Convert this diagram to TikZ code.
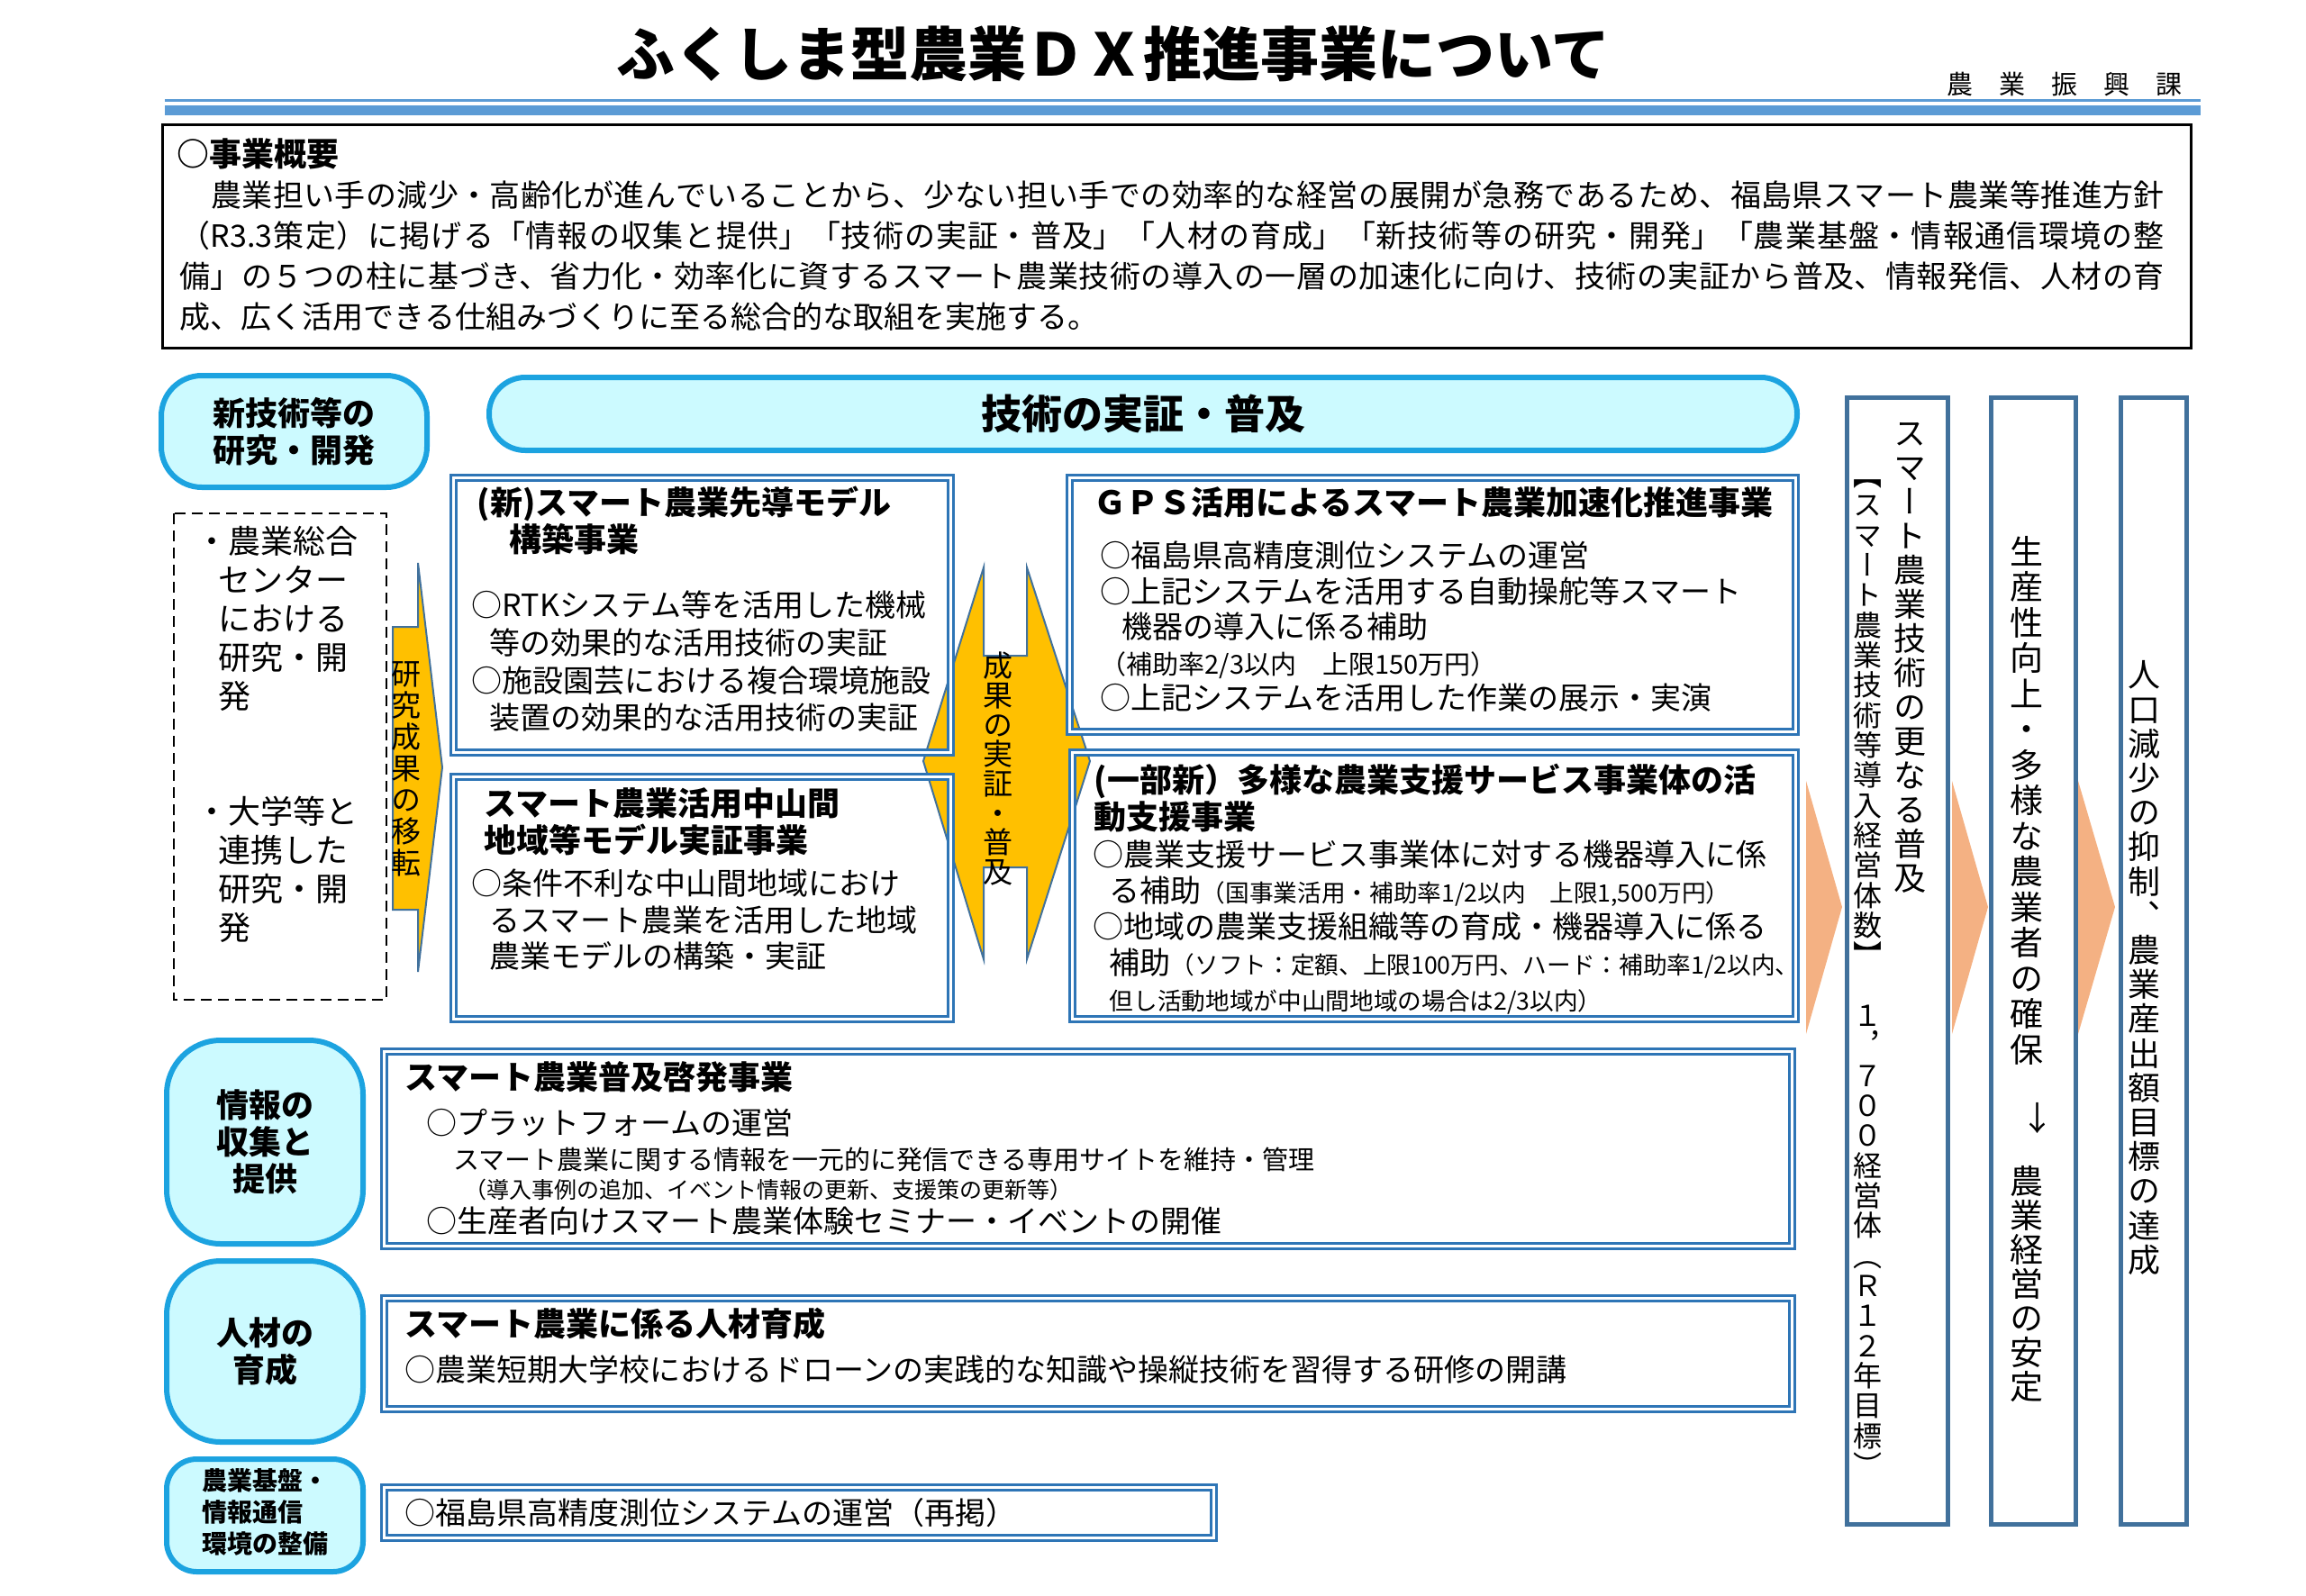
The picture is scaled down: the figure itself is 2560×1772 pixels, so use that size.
\documentclass[tikz,border=0pt]{standalone}
\usepackage{fontspec}
\setmainfont{Noto Sans CJK JP}
\newfontfamily\tatefont{Noto Sans CJK JP}[RawFeature=+vert]
\IfFontExistsTF{Noto Sans CJK JP Black}
  {\newfontfamily\titlefont{Noto Sans CJK JP Black}}
  {\newcommand\titlefont{\bfseries}}
\definecolor{titleblue}{RGB}{91,155,213}
\definecolor{cyanline}{RGB}{28,163,224}
\definecolor{cyanfill}{RGB}{204,250,255}
\definecolor{dblue}{RGB}{46,117,182}
\definecolor{gold}{RGB}{255,192,0}
\definecolor{edgeblue}{RGB}{65,113,156}
\definecolor{peach}{RGB}{244,177,131}
% vertical text: one character per line
\makeatletter
\newcommand\tatetext[2]{\vbox{\baselineskip=#1\lineskiplimit=-\maxdimen\lineskip=0pt\relax
  \@tfor\tatechar:=#2\do{\hbox to 1em{\hss\tatechar\hss}}}}
\makeatother
\tikzset{
  pill/.style={draw=cyanline, fill=cyanfill, line width=1.8pt, inner sep=0pt, align=center,
    font=\bfseries\fontsize{10.8}{12.3}\selectfont},
  dbox/.style={draw=dblue, double=white, line width=0.9pt, double distance=0.9pt},
  col/.style={draw=edgeblue, line width=1.5pt},
  goldarrow/.style={draw=edgeblue, fill=gold, line width=0.6pt},
  txt/.style={inner sep=0pt, anchor=west, align=left},
  ttl/.style={txt, font=\bfseries\fontsize{10.8}{12.3}\selectfont},
  bdy/.style={txt, font=\fontsize{10.2}{#1}\selectfont},
  bdy/.default=12.3pt,
  tate/.style={inner sep=0pt, anchor=center}
}
\begin{document}
\begin{tikzpicture}[x=0.3pt, y=-0.3pt]
\useasboundingbox (0,0) rectangle (2560,1772);
% title
\node[inner sep=0pt, font=\titlefont\fontsize{19.5}{20}\selectfont] (title) at (1236,60) {ふくしま型農業ＤＸ推進事業について};
\node[txt, font=\fontsize{8.7}{9}\selectfont] (dept) at (2161,93) {農　業　振　興　課};
\draw[line width=0.9pt, titleblue] (183,111.5) -- (2443,111.5);
\draw[line width=3.3pt, titleblue] (183,122.5) -- (2443,122.5);

% overview
\draw[line width=0.9pt] (180,138) rectangle (2432,386);
\node[ttl] (ovhead) at (196,171) {○事業概要};
\node[txt, text width=661pt, align=justify, font=\fontsize{10.2}{13.5}\selectfont] (ovtext) at (199,284)
  {\XeTeXlinebreaklocale "ja"\XeTeXlinebreakskip=0pt plus 2pt\hbadness=10000\relax
  　農業担い手の減少・高齢化が進んでいることから、少ない担い手での効率的な経営の展開が急務であるため、福島県スマート農業等推進方針\linebreak
  （R3.3策定）に掲げる「情報の収集と提供」「技術の実証・普及」「人材の育成」「新技術等の研究・開発」「農業基盤・情報通信環境の整\linebreak
  備」の５つの柱に基づき、省力化・効率化に資するスマート農業技術の導入の一層の加速化に向け、技術の実証から普及、情報発信、人材の育\linebreak
  成、広く活用できる仕組みづくりに至る総合的な取組を実施する。};

% left column
\node[pill, rounded corners=13.5pt, minimum width=88.5pt, minimum height=37.2pt] (research) at (326.5,479) {新技術等の\\研究・開発};
\node[pill, rounded corners=18pt, minimum width=65.4pt, minimum height=67.8pt] (info) at (294,1268) {情報の\\収集と\\提供};
\node[pill, rounded corners=18pt, minimum width=65.4pt, minimum height=60.3pt] (people) at (294,1500.5) {人材の\\育成};
\node[pill, rounded corners=10pt, minimum width=65.4pt, minimum height=37.5pt, align=left,
  font=\bfseries\fontsize{8.4}{10.5}\selectfont] (infra) at (294,1682.5) {\raisebox{2pt}{\begin{tabular}{@{}l@{}}農業基盤・\\情報通信\\環境の整備\end{tabular}}};
\node[pill, rounded corners=12pt, minimum width=435.6pt, minimum height=24.3pt,
  font=\bfseries\fontsize{13.5}{14}\selectfont] (demo) at (1269,459.5) {技術の実証・普及};

\draw[line width=0.6pt, dash pattern=on 3.6pt off 2.1pt] (193,570) rectangle (429,1110);
\node[txt, font=\fontsize{10.8}{12.9}\selectfont] (center) at (217,687)
  {・農業総合\\\hspace*{7.5pt}センター\\\hspace*{7.5pt}における\\\hspace*{7.5pt}研究・開\\\hspace*{7.5pt}発};
\node[txt, font=\fontsize{10.8}{12.9}\selectfont] (univ) at (217,965.5)
  {・大学等と\\\hspace*{7.5pt}連携した\\\hspace*{7.5pt}研究・開\\\hspace*{7.5pt}発};

% arrows
\draw[goldarrow] (436,696) -- (464,696) -- (464,625) -- (491,852) -- (464,1079) -- (464,1010) -- (436,1010) -- cycle;
\node[tate, font=\tatefont\fontsize{9.9}{10}\selectfont] (transfer) at (451,854) {\tatetext{10.5pt}{研究成果の移転}};
\draw[goldarrow] (1025,845) -- (1092,630) -- (1092,728) -- (1140,728) -- (1140,630) -- (1210,845)
  -- (1140,1065) -- (1140,963) -- (1092,963) -- (1092,1065) -- cycle;
\node[tate, font=\tatefont\fontsize{9.9}{10}\selectfont] (spread) at (1108,853.5) {\tatetext{9.8pt}{成果の実証・普及}};

% project boxes
\draw[dbox] (503,530) rectangle (1055,835);
\node[ttl] (atitle) at (529,578) {(新)スマート農業先導モデル\\　構築事業};
\node[bdy=12.5pt] (abody) at (523,734.5) {○RTKシステム等を活用した機械\\\hspace*{6pt}等の効果的な活用技術の実証\\○施設園芸における複合環境施設\\\hspace*{6pt}装置の効果的な活用技術の実証};

\draw[dbox] (503,862) rectangle (1055,1131);
\node[ttl] (btitle) at (537,912.5) {スマート農業活用中山間\\地域等モデル実証事業};
\node[bdy=12.15pt] (bbody) at (523,1021.5) {○条件不利な中山間地域におけ\\\hspace*{6pt}るスマート農業を活用した地域\\\hspace*{6pt}農業モデルの構築・実証};

\draw[dbox] (1187,530) rectangle (1993,812);
\node[ttl] (ctitle) at (1214,558) {ＧＰＳ活用によるスマート農業加速化推進事業};
\node[bdy=11.85pt] (cbody) at (1221,696) {○福島県高精度測位システムの運営\\○上記システムを活用する自動操舵等スマート\\\hspace*{7.2pt}機器の導入に係る補助\\{\fontsize{8.7}{9}\selectfont （補助率2/3以内　上限150万円）}\\○上記システムを活用した作業の展示・実演};

\draw[dbox] (1190,835) rectangle (1993,1131);
\node[ttl] (dtitle) at (1214,886.5) {(一部新）多様な農業支援サービス事業体の活\\動支援事業};
\node[bdy=12pt] (dbody) at (1213,1030) {○農業支援サービス事業体に対する機器導入に係\\\hspace*{5.4pt}る補助{\fontsize{8}{8}\selectfont （国事業活用・補助率1/2以内　上限1,500万円）}\\○地域の農業支援組織等の育成・機器導入に係る\\\hspace*{5.4pt}補助{\fontsize{8}{8}\selectfont （ソフト：定額、上限100万円、ハード：補助率1/2以内、}\\\hspace*{5.4pt}{\fontsize{8}{8}\selectfont 但し活動地域が中山間地域の場合は2/3以内）}};

\draw[dbox] (426,1167) rectangle (1989,1383);
\node[ttl] (etitle) at (449,1196) {スマート農業普及啓発事業};
\node[bdy] (eone) at (473,1247) {○プラットフォームの運営};
\node[txt, font=\fontsize{8.7}{9}\selectfont] (etwo) at (503,1287) {スマート農業に関する情報を一元的に発信できる専用サイトを維持・管理};
\node[txt, font=\fontsize{7.5}{8}\selectfont] (ethree) at (515,1321) {（導入事例の追加、イベント情報の更新、支援策の更新等）};
\node[bdy] (efour) at (473,1356) {○生産者向けスマート農業体験セミナー・イベントの開催};

\draw[dbox] (426,1441) rectangle (1989,1564);
\node[ttl] (ftitle) at (449,1470) {スマート農業に係る人材育成};
\node[bdy] (fbody) at (449,1521) {○農業短期大学校におけるドローンの実践的な知識や操縦技術を習得する研修の開講};

\draw[dbox] (426,1651) rectangle (1347,1707);
\node[bdy] (gbody) at (449,1680) {○福島県高精度測位システムの運営（再掲）};

% outcome columns
\fill[peach] (2005,867) -- (2045,1007) -- (2005,1148) -- cycle;
\fill[peach] (2167,867) -- (2207,1007) -- (2167,1148) -- cycle;
\fill[peach] (2307,867) -- (2348,1007) -- (2307,1148) -- cycle;
\draw[col] (2050.5,441.5) rectangle (2162.5,1692.5);
\draw[col] (2210.5,441.5) rectangle (2304.5,1692.5);
\draw[col] (2354.5,441.5) rectangle (2427.5,1692.5);
\node[tate, font=\tatefont\fontsize{10.8}{11}\selectfont] (spreadmore) at (2120,730) {\tatetext{11.4pt}{スマート農業技術の更なる普及}};
\node[tate, font=\tatefont\fontsize{9.6}{10}\selectfont] (target) at (2073,1086) {\tatetext{10pt}{【スマート農業技術等導入経営体数】　１，７００経営体（Ｒ１２年目標）}};
\node[tate, font=\tatefont\fontsize{11.1}{11}\selectfont] (prod) at (2250,888.5) {\tatetext{11.85pt}{生産性向上・多様な農業者の確保}};
\node[tate, font=\fontsize{11.1}{11}\selectfont] (down) at (2262,1242) {↓};
\node[tate, font=\tatefont\fontsize{11.1}{11}\selectfont] (stable) at (2250,1426) {\tatetext{11.4pt}{農業経営の安定}};
\node[tate, font=\tatefont\fontsize{10.8}{11}\selectfont] (goal) at (2380,1074.5) {\tatetext{11.46pt}{人口減少の抑制、農業産出額目標の達成}};
\end{tikzpicture}
\end{document}
